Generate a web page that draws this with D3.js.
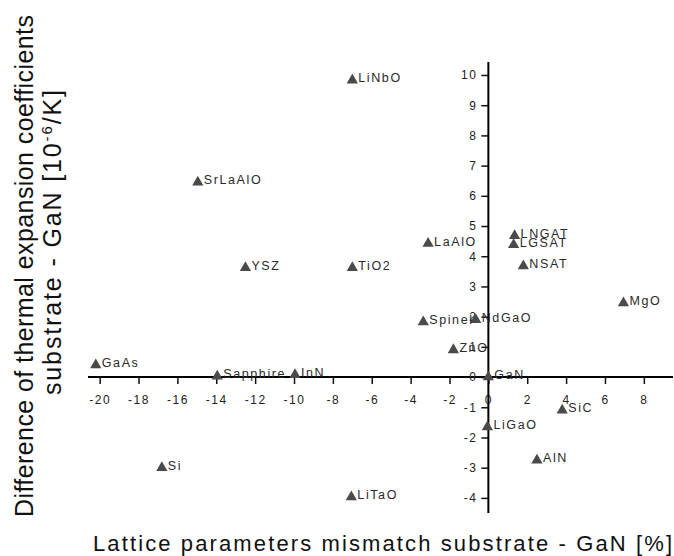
<!DOCTYPE html>
<html>
<head>
<meta charset="utf-8">
<script src="https://cdn.jsdelivr.net/npm/d3@7"></script>
<style>
  html, body { margin: 0; padding: 0; background: #fff; }
  svg { display: block; }
  text { font-family: "Liberation Sans", Arial, sans-serif; }
</style>
</head>
<body>
<svg id="chart" width="674" height="556"></svg>
<script>
// ---- data ----
const materials = ["LiNbO","SrLaAlO","YSZ","TiO2","LaAlO","LNGAT","LGSAT","NSAT","MgO","Spinel","NdGaO","ZnO","GaN","SiC","LiGaO","AlN","LiTaO","Si","GaAs","Sapphire","InN"];
const latticeMismatch = [-7.0,-14.95,-12.5,-7.0,-3.1,1.35,1.3,1.8,6.95,-3.35,-0.65,-1.8,0,3.8,-0.05,2.5,-7.05,-16.8,-20.2,-13.95,-9.95];
const thermalDiff   = [9.83,6.45,3.62,3.62,4.42,4.68,4.38,3.68,2.45,1.82,1.9,0.9,0,-1.1,-1.65,-2.75,-3.97,-3.0,0.4,0.03,0.08];
const xTickValues = [-20,-18,-16,-14,-12,-10,-8,-6,-4,-2,0,2,4,6,8];
const yTickValues = [-4,-3,-2,-1,0,1,2,3,4,5,6,7,8,9,10];
const xTitle = "Lattice parameters mismatch substrate - GaN [%]";
const yTitle1 = "Difference of thermal expansion coefficients";

const svg = d3.select("#chart");
const x = d3.scaleLinear().domain([-20.6, 9.5]).range([88, 673]);
const y = d3.scaleLinear().domain([-4.5, 10.43]).range([513, 62]);
const x0 = x(0), y0 = y(0);

// minor ticks
const xMinor = d3.range(-20.5, 9.51, 0.5).filter(v => Math.abs(v % 2) > 1e-6);
const yMinor = d3.range(-4.4, 10.41, 0.2).map(v => Math.round(v*10)/10).filter(v => Math.abs(v - Math.round(v)) > 1e-6);

const gx = svg.append("g").attr("transform", `translate(0,${y0})`);
gx.call(d3.axisBottom(x).tickValues(xMinor).tickSize(4).tickFormat(""));
gx.call(d3.axisBottom(x).tickValues(xTickValues).tickSize(7).tickPadding(11).tickFormat(d => String(d)));
gx.selectAll("path.domain").attr("stroke", "#000").attr("stroke-width", 2);
gx.selectAll("line").attr("stroke", "#111").attr("stroke-width", 1.5);
gx.selectAll("text").attr("fill", "#222").style("font-size", "12px").style("letter-spacing", "1.5px").attr("font-family", null);

const gy = svg.append("g").attr("transform", `translate(${x0},0)`);
gy.call(d3.axisLeft(y).tickValues(yMinor).tickSize(4).tickFormat(""));
gy.call(d3.axisLeft(y).tickValues(yTickValues).tickSize(7).tickPadding(4).tickFormat(d => String(d)));
gy.selectAll("path.domain").attr("stroke", "#000").attr("stroke-width", 2);
gy.selectAll("line").attr("stroke", "#111").attr("stroke-width", 1.5);
gy.selectAll("text").attr("fill", "#222").style("font-size", "12px").style("letter-spacing", "1.5px").attr("font-family", null);
gx.selectAll("path.domain").attr("d", `M${x.range()[0]},0H${x.range()[1]}`);
gy.selectAll("path.domain").attr("d", `M0,${y.range()[0]}V${y.range()[1]}`);

// points
const pts = materials.map((m, i) => ({name: m, lx: latticeMismatch[i], ty: thermalDiff[i]}));
const tri = d3.symbol().type(d3.symbolTriangle).size(55);
const gp = svg.append("g");
gp.selectAll("path.pt").data(pts).join("path")
  .attr("class", "pt")
  .attr("d", tri)
  .attr("transform", d => `translate(${x(d.lx)},${y(d.ty)})`)
  .attr("fill", "#4a4a4a");
gp.selectAll("text.lbl").data(pts).join("text")
  .attr("class", "lbl")
  .attr("x", d => x(d.lx) + 6)
  .attr("y", d => y(d.ty) + 2)
  .attr("fill", "#2a2a2a")
  .style("font-size", "12.5px")
  .style("letter-spacing", "1.6px")
  .text(d => d.name);

// x title
svg.append("text")
  .attr("x", 93).attr("y", 551)
  .attr("textLength", 579).attr("lengthAdjust", "spacing")
  .attr("fill", "#111")
  .style("font-size", "22px")
  .text(xTitle);

// y title
svg.append("text")
  .attr("transform", "translate(33,517) rotate(-90)")
  .attr("x", 0).attr("y", 0)
  .attr("textLength", 502).attr("lengthAdjust", "spacing")
  .attr("fill", "#111")
  .style("font-size", "25px")
  .text(yTitle1);

const t2 = svg.append("text")
  .attr("transform", "translate(61,395) rotate(-90)")
  .attr("textLength", 305).attr("lengthAdjust", "spacing")
  .attr("fill", "#111")
  .style("font-size", "25px");
t2.append("tspan").text("substrate - GaN [10");
t2.append("tspan").attr("dy", -9).style("font-size", "15px").text("-6");
t2.append("tspan").attr("dy", 9).text("/K]");
</script>
</body>
</html>
